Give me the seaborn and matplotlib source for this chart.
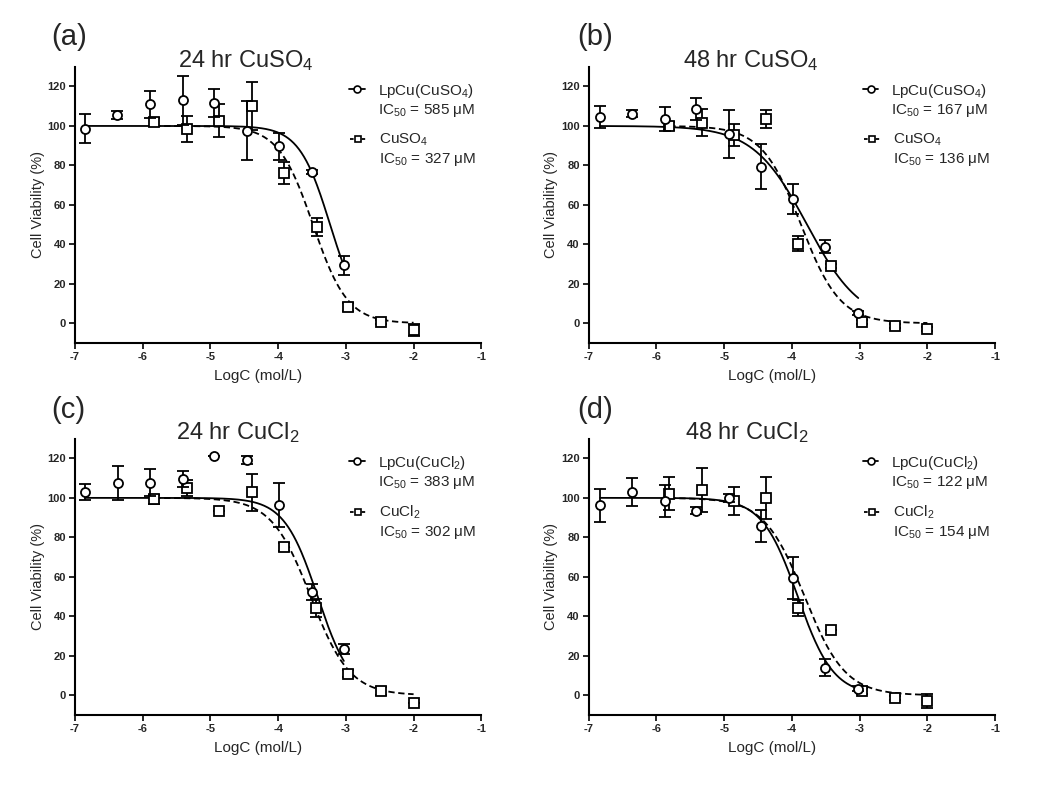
import numpy as np
import pandas as pd
import matplotlib
matplotlib.use("Agg")
import matplotlib.pyplot as plt
import seaborn as sns
from matplotlib.lines import Line2D

# ---- data (x = log10 concentration, y = viability %) ----
panel_tags = ["(a)", "(b)", "(c)", "(d)"]
panel_titles = ["24 hr CuSO$_4$", "48 hr CuSO$_4$", "24 hr CuCl$_2$", "48 hr CuCl$_2$"]
lp_names = ["LpCu(CuSO$_4$)", "LpCu(CuSO$_4$)", "LpCu(CuCl$_2$)", "LpCu(CuCl$_2$)"]
cu_names = ["CuSO$_4$", "CuSO$_4$", "CuCl$_2$", "CuCl$_2$"]

# fitted IC50 (uM) and hill slopes of the sigmoid fits
lp_ic50 = [585, 167, 383, 122]
cu_ic50 = [327, 136, 302, 154]
lp_hill = [1.9, 1.1, 1.75, 1.65]
cu_hill = [1.7, 1.5, 1.5, 1.45]

lp_x_a = [-6.85, -6.38, -5.89, -5.41, -4.95, -4.46, -3.99, -3.50, -3.03]
lp_y_a = [98.7, 105.5, 110.9, 113.0, 111.7, 97.5, 89.7, 76.9, 29.4]
lp_e_a = [7.3, 2.0, 7.0, 12.5, 7.2, 15.0, 6.8, 1.0, 4.8]
cu_x_a = [-5.83, -5.34, -4.87, -4.39, -3.91, -3.43, -2.97, -2.48, -2.00]
cu_y_a = [102.0, 98.4, 102.6, 110.0, 76.0, 48.8, 8.3, 0.7, -3.5]
cu_e_a = [2.0, 6.5, 8.3, 12.3, 5.5, 4.8, 2.0, 1.0, 3.0]

lp_x_b = [-6.83, -6.36, -5.88, -5.41, -4.93, -4.46, -3.98, -3.51, -3.02]
lp_y_b = [104.6, 106.3, 103.4, 108.8, 95.8, 79.3, 63.2, 38.7, 5.4]
lp_e_b = [5.5, 2.0, 6.0, 5.6, 12.2, 11.5, 7.6, 3.3, 1.0]
cu_x_b = [-5.81, -5.33, -4.86, -4.38, -3.91, -3.43, -2.96, -2.48, -2.00]
cu_y_b = [100.0, 101.6, 95.5, 103.6, 40.4, 29.0, 0.7, -1.4, -3.0]
cu_e_b = [2.0, 6.8, 5.5, 4.5, 3.8, 1.0, 1.0, 1.0, 1.0]

lp_x_c = [-6.85, -6.37, -5.89, -5.41, -4.95, -4.46, -3.98, -3.50, -3.03]
lp_y_c = [103.1, 107.7, 107.7, 109.7, 121.2, 119.0, 96.2, 52.4, 23.5]
lp_e_c = [4.0, 8.7, 6.8, 4.0, 0.0, 2.0, 11.1, 4.0, 2.5]
cu_x_c = [-5.83, -5.34, -4.87, -4.39, -3.91, -3.44, -2.97, -2.48, -2.00]
cu_y_c = [99.2, 105.1, 93.3, 102.9, 75.2, 44.3, 11.0, 2.0, -3.9]
cu_e_c = [2.5, 4.0, 0.0, 9.3, 2.0, 4.7, 2.0, 2.0, 0.0]

lp_x_d = [-6.83, -6.36, -5.88, -5.41, -4.93, -4.46, -3.98, -3.51, -3.02]
lp_y_d = [96.2, 102.9, 98.4, 93.6, 100.0, 85.7, 59.5, 13.9, 3.4]
lp_e_d = [8.4, 7.0, 7.9, 2.0, 2.0, 8.1, 10.6, 4.3, 1.5]
cu_x_d = [-5.81, -5.33, -4.86, -4.38, -3.91, -3.43, -2.96, -2.48, -2.00]
cu_y_d = [102.2, 103.9, 98.4, 100.0, 44.3, 33.3, 2.0, -1.4, -3.0]
cu_e_d = [8.3, 11.0, 7.0, 10.5, 4.2, 0.0, 1.5, 1.0, 3.5]

lp_sets = [(lp_x_a, lp_y_a, lp_e_a), (lp_x_b, lp_y_b, lp_e_b),
           (lp_x_c, lp_y_c, lp_e_c), (lp_x_d, lp_y_d, lp_e_d)]
cu_sets = [(cu_x_a, cu_y_a, cu_e_a), (cu_x_b, cu_y_b, cu_e_b),
           (cu_x_c, cu_y_c, cu_e_c), (cu_x_d, cu_y_d, cu_e_d)]

x_ticks = [-7, -6, -5, -4, -3, -2, -1]
y_ticks = [0, 20, 40, 60, 80, 100, 120]

sns.set_style("ticks")
plt.rcParams["font.family"] = ["Liberation Sans", "DejaVu Sans"]
plt.rcParams["mathtext.fontset"] = "custom"
plt.rcParams["mathtext.rm"] = "Liberation Sans"
plt.rcParams["mathtext.it"] = "Liberation Sans:italic"
plt.rcParams["mathtext.bf"] = "Liberation Sans:bold"


def fit_curve(x_first, x_last, ic50_um, hill):
    """Four-parameter logistic (top 100, bottom 0) sampled between the data ends."""
    xs = np.linspace(x_first, x_last, 300)
    log_ic50 = np.log10(ic50_um * 1e-6)
    ys = 100.0 / (1.0 + 10 ** ((xs - log_ic50) * hill))
    return pd.DataFrame({"logc": xs, "viability": ys})


fig = plt.figure(figsize=(10.5, 7.85), dpi=100)
ax_w, ax_h = 0.387, 0.352
lefts = [0.0714, 0.5607, 0.0714, 0.5607]
bottoms = [0.563, 0.563, 0.0892, 0.0892]
tag_pos = [(0.049, 0.9535), (0.5495, 0.9535), (0.049, 0.478), (0.5495, 0.478)]
title_x = [0.42, 0.40, 0.40, 0.39]

for i in range(4):
    ax = fig.add_axes([lefts[i], bottoms[i], ax_w, ax_h])
    lx, ly, le = lp_sets[i]
    cx, cy, ce = cu_sets[i]

    # fitted curves
    lp_fit = fit_curve(lx[0], lx[-1], lp_ic50[i], lp_hill[i])
    cu_fit = fit_curve(cx[0], cx[-1], cu_ic50[i], cu_hill[i])
    sns.lineplot(data=lp_fit, x="logc", y="viability", ax=ax, color="black",
                 linewidth=1.3, zorder=2)
    sns.lineplot(data=cu_fit, x="logc", y="viability", ax=ax, color="black",
                 linewidth=1.3, zorder=2)
    ax.lines[-1].set_dashes([3.5, 2])

    # mean +/- sd points
    ax.errorbar(cx, cy, yerr=ce, fmt="s", ms=6.5, mfc="white", mec="black",
                mew=1.3, ecolor="black", elinewidth=1.3, capsize=4, capthick=1.3,
                zorder=3)
    ax.errorbar(lx, ly, yerr=le, fmt="o", ms=6.5, mfc="white", mec="black",
                mew=1.3, ecolor="black", elinewidth=1.3, capsize=4, capthick=1.3,
                zorder=4)

    ax.set_xlim(-7, -1)
    ax.set_ylim(-10, 130)
    ax.set_xticks(x_ticks)
    ax.set_yticks(y_ticks)
    ax.set_xticklabels([str(t) for t in x_ticks], fontweight="bold", fontsize=8)
    ax.set_yticklabels([str(t) for t in y_ticks], fontweight="bold", fontsize=8)
    ax.tick_params(length=4.5, width=1.2, color="black", pad=2)
    sns.despine(ax=ax)
    for side in ["left", "bottom"]:
        ax.spines[side].set_linewidth(1.5)
        ax.spines[side].set_color("black")
    ax.set_xlabel("LogC (mol/L)", fontsize=11)
    ax.xaxis.set_label_coords(0.45, -0.095)
    ax.set_ylabel("Cell Viability (%)", fontsize=10.5, labelpad=2)

    ax.text(title_x[i], 1.0, panel_titles[i], transform=ax.transAxes, ha="center",
            va="baseline", fontsize=17)
    fig.text(tag_pos[i][0], tag_pos[i][1], panel_tags[i], ha="left",
             va="center", fontsize=21)

    # legends: marker line handle + name, then IC50 line underneath
    blank = Line2D([], [], linestyle="none")
    h_lp = Line2D([], [], color="black", lw=1.3, marker="o", ms=5,
                  mfc="white", mec="black", mew=1.2)
    h_cu = Line2D([], [], color="black", lw=1.3, ls=(0, (2.0, 1.2)), marker="s",
                  ms=5, mfc="white", mec="black", mew=1.2)
    leg_kw = dict(loc="upper left", frameon=False, fontsize=11,
                  handlelength=1.0, handletextpad=0.85, labelspacing=0.15,
                  borderpad=0, borderaxespad=0)
    leg1 = ax.legend([h_lp, blank], [lp_names[i], f"IC$_{{50}}$ = {lp_ic50[i]} μM"],
                     bbox_to_anchor=(0.675, 0.946), **leg_kw)
    ax.add_artist(leg1)
    ax.legend([h_cu, blank], [cu_names[i], f"IC$_{{50}}$ = {cu_ic50[i]} μM"],
              bbox_to_anchor=(0.678, 0.764), **leg_kw)

fig.savefig("out.png", dpi=100)
